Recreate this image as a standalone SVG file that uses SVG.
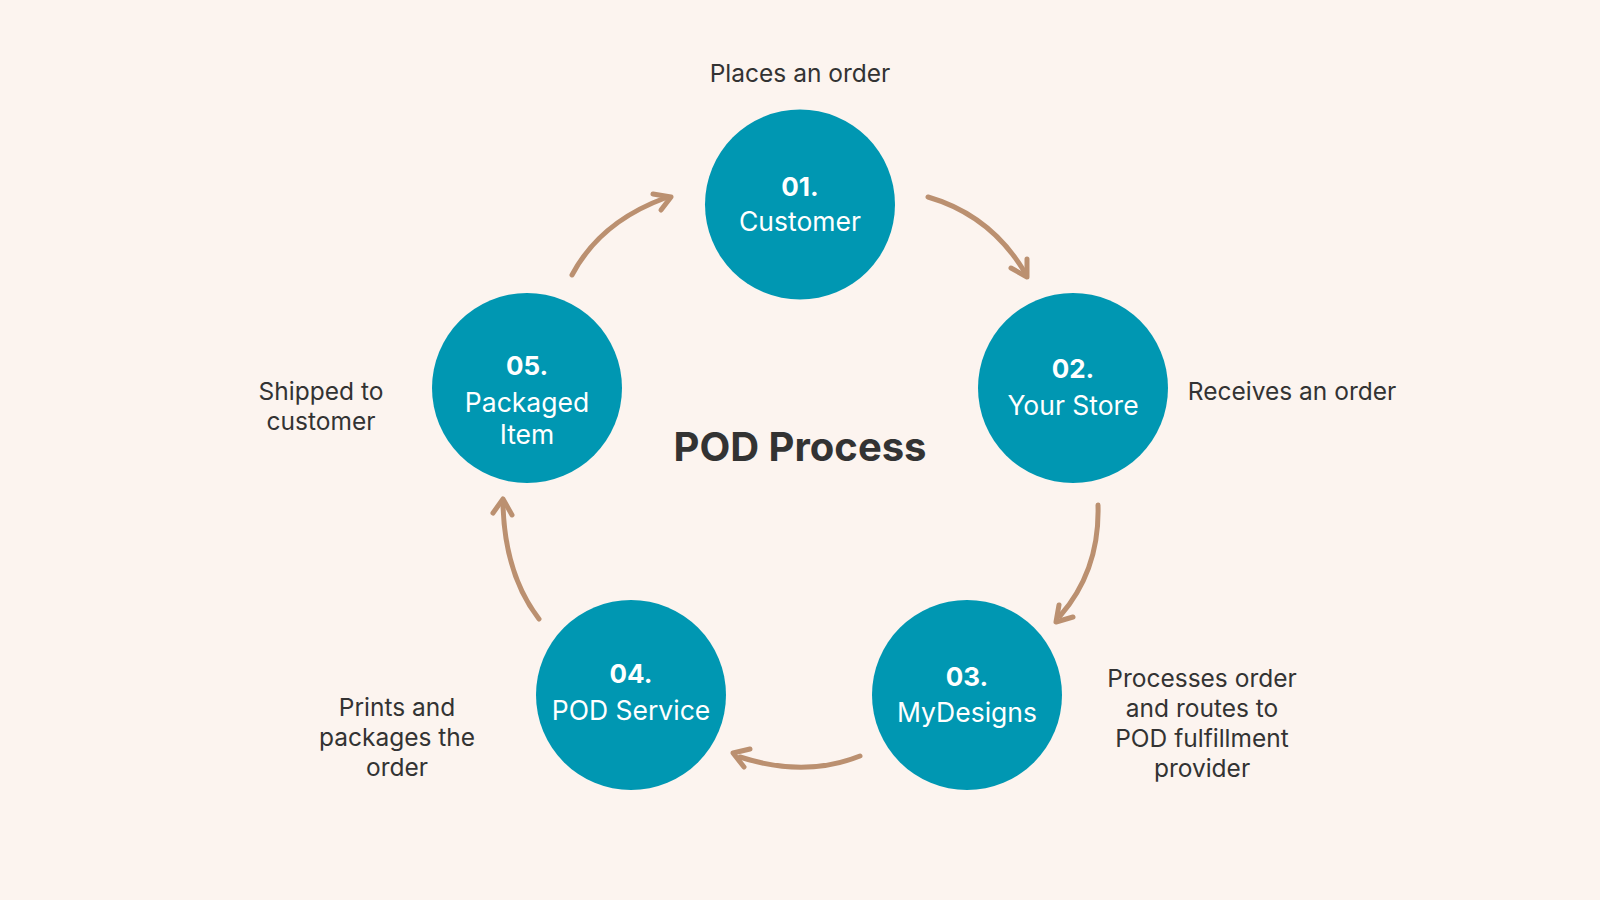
<svg xmlns="http://www.w3.org/2000/svg" width="1600" height="900" viewBox="0 0 1600 900">
<style>
.bg{fill:#FCF4EF}
.node{fill:#0097B2}
.num{font-family:Inter,"Open Sans","Liberation Sans",sans-serif;font-size:26px;font-weight:700;fill:#FFFFFF;text-anchor:middle}
.nm{font-family:Inter,"Open Sans","Liberation Sans",sans-serif;font-size:26.5px;font-weight:400;fill:#FFFFFF;text-anchor:middle}
.lbl{font-family:Inter,"Open Sans","Liberation Sans",sans-serif;font-size:24.5px;fill:#333333;text-anchor:middle}
.title{font-family:Inter,"Open Sans","Liberation Sans",sans-serif;font-size:40px;font-weight:700;fill:#333333;text-anchor:middle}
.arr{fill:none;stroke:#BB9070;stroke-width:5;stroke-linecap:round;stroke-linejoin:round}
</style>
<rect class="bg" x="0" y="0" width="1600" height="900"/>
<g id="connectors">
<path class="arr" d="M928,197 Q990,215 1024,271"/>
<path class="arr" d="M1027,259 L1027,277 L1011,268"/>
<path class="arr" d="M1098,505 Q1100,570 1060,616"/>
<path class="arr" d="M1059,605 L1056,622 L1073,617"/>
<path class="arr" d="M860,756 Q805,778 740,757"/>
<path class="arr" d="M750,749 L733,753 L744,767"/>
<path class="arr" d="M539,619 Q505,575 503,505"/>
<path class="arr" d="M493,513 L503,499 L512,515"/>
<path class="arr" d="M572,275 Q600,222 665,198"/>
<path class="arr" d="M653,194 L671,197 L661,210"/>
</g>
<g id="node1">
<circle class="node" cx="800" cy="204.5" r="95"/>
<text class="num" x="800" y="196">01.</text>
<text class="nm" x="800" y="231">Customer</text>
</g>
<g id="node2">
<circle class="node" cx="1073" cy="388" r="95"/>
<text class="num" x="1073" y="378">02.</text>
<text class="nm" x="1073" y="415">Your Store</text>
</g>
<g id="node3">
<circle class="node" cx="967" cy="695" r="95"/>
<text class="num" x="967" y="686">03.</text>
<text class="nm" x="967" y="722">MyDesigns</text>
</g>
<g id="node4">
<circle class="node" cx="631" cy="695" r="95"/>
<text class="num" x="631" y="683">04.</text>
<text class="nm" x="631" y="720">POD Service</text>
</g>
<g id="node5">
<circle class="node" cx="527" cy="388" r="95"/>
<text class="num" x="527" y="375">05.</text>
<text class="nm" x="527" y="412">Packaged</text>
<text class="nm" x="527" y="444">Item</text>
</g>
<g id="labels">
<text class="lbl" x="800" y="82">Places an order</text>
<text class="lbl" x="1292" y="400">Receives an order</text>
<text class="lbl" x="1202" y="687">Processes order</text>
<text class="lbl" x="1202" y="717">and routes to</text>
<text class="lbl" x="1202" y="747">POD fulfillment</text>
<text class="lbl" x="1202" y="777">provider</text>
<text class="lbl" x="397" y="716">Prints and</text>
<text class="lbl" x="397" y="746">packages the</text>
<text class="lbl" x="397" y="776">order</text>
<text class="lbl" x="321" y="400">Shipped to</text>
<text class="lbl" x="321" y="430">customer</text>
<text class="title" x="800" y="461">POD Process</text>
</g>
</svg>
